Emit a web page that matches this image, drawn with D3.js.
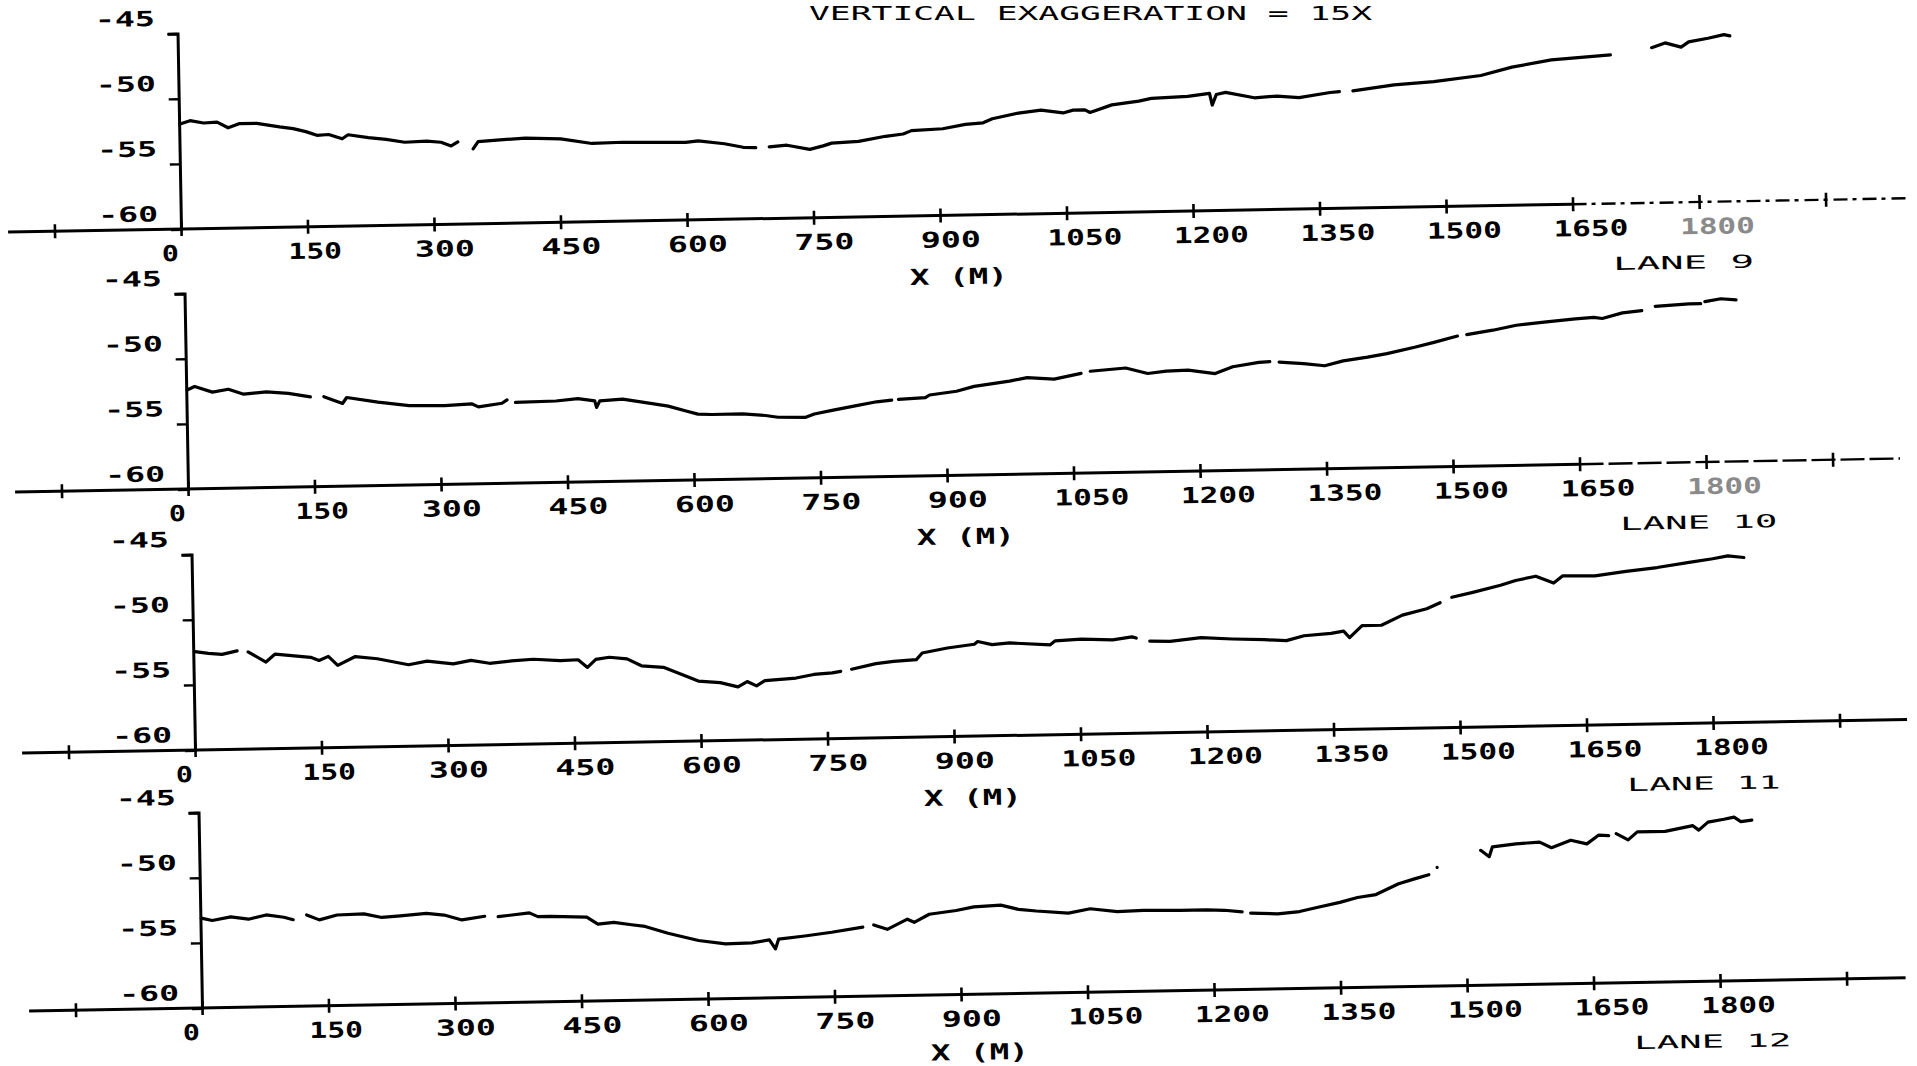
<!DOCTYPE html>
<html>
<head>
<meta charset="utf-8">
<script src="https://cdn.jsdelivr.net/npm/d3@7"></script>
<style>
  html, body { margin: 0; padding: 0; background: #fff; overflow: hidden; }
  svg { display: block; }
</style>
</head>
<body>
<svg id="chart" width="1917" height="1066"></svg>
<script>
// ---------------- DATA ----------------
const titleText = "VERTICAL EXAGGERATION = 15X";
const xAxisTitle = "X (M)";
const laneNames = ["LANE  9", "LANE  10", "LANE  11", "LANE  12"];

const xTickValues = [-150, 0, 150, 300, 450, 600, 750, 900, 1050, 1200, 1350, 1500, 1650, 1800, 1950];
const xLabelValues = [0, 150, 300, 450, 600, 750, 900, 1050, 1200, 1350, 1500, 1650, 1800];
const xTickLabels = ["0", "150", "300", "450", "600", "750", "900", "1050", "1200", "1350", "1500", "1650", "1800"];
const yTickValues = [-60, -55, -50, -45];
const yTickLabels = ["-60", "-55", "-50", "-45"];

// Lane 9 (null = pen lift / gap in the record)
const lane9Dist = [1, 13, 29, 45, 58, 71, 92, 119, 135, 150, 163, 177, 193, 200, 224, 245, 267, 293, 310, 322, 330, 336,
  348, 354, 380, 410, 452, 489, 526, 558, 600, 615, 646, 668, 683, 690,
  699, 720, 747, 763, 773, 805, 837, 858, 868, 905, 932, 953, 964, 995, 1022, 1048, 1060, 1074, 1080, 1106, 1138, 1153,
  1196, 1222, 1225, 1230, 1241, 1275, 1302, 1328, 1365, 1376, 1384,
  1392, 1441, 1488, 1544, 1581, 1628, 1698, 1720,
  1747, 1763, 1782, 1791, 1814, 1833, 1840];
const lane9Depth = [-51.95, -51.7, -51.9, -51.85, -52.3, -52.0, -52.0, -52.3, -52.45, -52.7, -53.0, -52.95, -53.3, -53.0, -53.25, -53.4, -53.65, -53.6, -53.7, -54.0, -53.7, null,
  -54.25, -53.7, -53.6, -53.5, -53.6, -54.0, -53.95, -54.0, -54.05, -53.95, -54.2, -54.5, -54.55, null,
  -54.5, -54.4, -54.75, -54.5, -54.3, -54.2, -53.85, -53.7, -53.45, -53.35, -53.05, -52.95, -52.65, -52.25, -52.05, -52.3, -52.1, -52.1, -52.3, -51.75, -51.5, -51.3,
  -51.2, -51.0, -51.9, -51.1, -50.95, -51.4, -51.3, -51.45, -51.1, -51.05, null,
  -51.0, -50.6, -50.4, -50.0, -49.4, -48.9, -48.6, null,
  -48.1, -47.75, -48.1, -47.7, -47.45, -47.2, -47.3];

// Lane 10
const lane10Dist = [1, 10, 31, 50, 68, 95, 121, 147, 155,
  163, 185, 190, 227, 264, 306, 338, 346, 374, 380, 385,
  390, 438, 464, 484, 486, 490, 517, 554, 571, 592, 606, 622, 659, 686, 701, 733, 744, 765, 791, 818, 836, 840,
  844, 876, 881, 913, 934, 976, 997, 1029, 1061, 1066,
  1072, 1114, 1140, 1162, 1188, 1220, 1241, 1272, 1285, 1291,
  1296, 1325, 1350, 1372, 1401, 1424, 1457, 1480, 1508, 1514,
  1519, 1550, 1578, 1611, 1648, 1670, 1680, 1704, 1727, 1735,
  1743, 1783, 1797, 1800,
  1802, 1821, 1839];
const lane10Depth = [-52.4, -52.15, -52.6, -52.4, -52.8, -52.65, -52.8, -53.1, null,
  -53.1, -53.65, -53.2, -53.6, -53.9, -53.95, -53.85, -54.1, -53.85, -53.6, null,
  -53.8, -53.75, -53.6, -53.8, -54.3, -53.8, -53.7, -54.1, -54.3, -54.7, -54.95, -55.0, -55.0, -55.15, -55.3, -55.35, -55.1, -54.85, -54.55, -54.25, -54.15, null,
  -54.1, -54.0, -53.8, -53.55, -53.2, -52.85, -52.6, -52.75, -52.35, null,
  -52.2, -52.0, -52.45, -52.3, -52.25, -52.55, -52.05, -51.75, -51.7, null,
  -51.75, -51.9, -52.1, -51.75, -51.5, -51.25, -50.8, -50.45, -50.0, null,
  -49.9, -49.6, -49.25, -49.05, -48.85, -48.75, -48.85, -48.45, -48.3, null,
  -48.0, -47.85, -47.85, null,
  -47.7, -47.5, -47.6];

// Lane 11
const lane11Dist = [2, 18, 34, 52, 58,
  65, 86, 97, 139, 149, 160, 171, 192, 218, 255, 277, 308, 329, 351, 377, 403, 435, 456, 467, 477, 493, 514, 531, 557, 578, 598,
  624, 645, 656, 667, 677, 714, 735, 757, 767, 774,
  780, 809, 830, 857, 864, 894, 926, 930, 947, 968, 1016, 1022, 1053, 1090, 1113, 1118, 1126,
  1134, 1158, 1195, 1232, 1270, 1296, 1317, 1349, 1364, 1371, 1386, 1409, 1434, 1463, 1479, 1486,
  1493, 1518, 1551, 1569, 1593, 1614, 1625, 1663, 1700, 1737, 1775, 1803, 1821, 1840];
const lane11Depth = [-52.45, -52.6, -52.7, -52.45, null,
  -52.55, -53.35, -52.75, -53.05, -53.3, -53.0, -53.7, -53.05, -53.25, -53.75, -53.5, -53.75, -53.5, -53.75, -53.6, -53.5, -53.65, -53.6, -54.2, -53.6, -53.45, -53.6, -54.15, -54.3, -54.85, -55.4,
  -55.55, -55.9, -55.5, -55.85, -55.45, -55.3, -55.05, -54.95, -54.85, null,
  -54.7, -54.3, -54.15, -54.05, -53.55, -53.2, -52.95, -52.75, -53.0, -52.9, -53.1, -52.8, -52.7, -52.8, -52.6, -52.7, null,
  -52.95, -53.0, -52.75, -52.9, -53.0, -53.1, -52.75, -52.6, -52.45, -52.95, -52.05, -52.05, -51.3, -50.85, -50.4, null,
  -50.0, -49.65, -49.15, -48.8, -48.5, -49.05, -48.5, -48.55, -48.25, -48.0, -47.65, -47.4, -47.2, -47.35];

// Lane 12
const lane12Dist = [1, 14, 36, 57, 78, 99, 110, 117,
  126, 141, 162, 194, 215, 237, 268, 289, 310, 337, 346,
  353, 390, 400, 416, 458, 471, 490, 511, 527, 554, 575, 590, 622, 653, 674, 681, 685, 716, 748, 785, 792,
  798, 814, 838, 846, 864, 896, 917, 949, 970, 991, 1029, 1055, 1087, 1118, 1161, 1193, 1214, 1235, 1240,
  1245, 1277, 1303, 1325, 1351, 1372, 1394, 1421, 1440, 1457, 1462,
  1467, 1490,
  1519, 1529, 1533, 1561, 1589, 1603, 1626, 1645, 1659, 1671, 1675,
  1680, 1694, 1705, 1738, 1771, 1778, 1789, 1808, 1820, 1828, 1841];
const lane12Depth = [-53.1, -53.3, -53.05, -53.25, -52.95, -53.15, -53.35, null,
  -53.0, -53.4, -53.05, -53.0, -53.3, -53.2, -53.05, -53.2, -53.6, -53.35, null,
  -53.4, -53.15, -53.45, -53.45, -53.55, -54.1, -54.0, -54.2, -54.35, -54.9, -55.25, -55.5, -55.8, -55.75, -55.55, -56.25, -55.5, -55.3, -55.05, -54.7, null,
  -54.55, -54.9, -54.15, -54.4, -53.8, -53.55, -53.3, -53.2, -53.55, -53.7, -53.9, -53.6, -53.85, -53.8, -53.85, -53.85, -53.9, -54.05, null,
  -54.15, -54.25, -54.1, -53.8, -53.45, -53.1, -52.9, -52.1, -51.75, -51.45, null,
  -50.9, null,
  -49.65, -50.15, -49.4, -49.2, -49.1, -49.55, -49.0, -49.3, -48.65, -48.7, null,
  -48.55, -49.05, -48.45, -48.45, -48.05, -48.4, -47.8, -47.6, -47.45, -47.8, -47.7];

const laneDists = [lane9Dist, lane10Dist, lane11Dist, lane12Dist];
const laneDepths = [lane9Depth, lane10Depth, lane11Depth, lane12Depth];

// ---------------- LAYOUT ----------------
const panelLeft = [181, 188, 195, 202];
const panelBase = [229, 489, 750, 1008];
const titleOffset = [69, 69, 69, 65.5];
const tilt = -1.02;
const axisStart = -205;
const axisEnd = [2045, 2030, 2030, 2020];
const dashedFrom = [1650, 1650, null, null];
const dashPattern = ["14,5,4,6", "24,5"];
const fadedLabel = [["1800"], ["1800"], [], []];
const mono = "'DejaVu Sans Mono', 'Liberation Mono', monospace";

const svg = d3.select("#chart");

const x = d3.scaleLinear().domain([0, 1950]).range([0, 1950 * 0.8435]);
const y = d3.scaleLinear().domain([-60, -45]).range([0, -195.5]);

function labelWidth(s) {
  const ones = (s.match(/1/g) || []).length;
  return 21.5 * s.length - 4.5 - 6.5 * ones;
}

// title (kept fully inside the page)
svg.append("text")
  .attr("x", 809).attr("y", 20)
  .attr("font-family", mono).attr("font-size", 20).attr("font-weight", "normal")
  .attr("textLength", 563).attr("lengthAdjust", "spacingAndGlyphs")
  .attr("fill", "#000")
  .text(titleText);

const line = d3.line()
  .defined(d => d[1] !== null)
  .x(d => x(d[0]))
  .y(d => y(d[1]));

for (let i = 0; i < 4; i++) {
  const g = svg.append("g")
    .attr("transform", `translate(${panelLeft[i]},${panelBase[i]}) rotate(${tilt})`);

  // x axis baseline (solid, then dashed part where present)
  const solidEnd = dashedFrom[i] === null ? axisEnd[i] : dashedFrom[i];
  g.append("line")
    .attr("x1", x(axisStart)).attr("x2", x(solidEnd))
    .attr("y1", 0).attr("y2", 0)
    .attr("stroke", "#000").attr("stroke-width", 3);
  if (dashedFrom[i] !== null) {
    g.append("line")
      .attr("x1", x(dashedFrom[i])).attr("x2", x(axisEnd[i]))
      .attr("y1", 0).attr("y2", 0)
      .attr("stroke", "#000").attr("stroke-width", 2.4)
      .attr("stroke-dasharray", dashPattern[i]);
  }

  // x axis ticks + labels through d3.axisBottom
  const xAxis = d3.axisBottom(x)
    .tickValues(xTickValues)
    .tickSizeOuter(0)
    .tickFormat(d => {
      const k = xLabelValues.indexOf(d);
      return k >= 0 ? xTickLabels[k] : "";
    });
  const gx = g.append("g").call(xAxis);
  gx.select(".domain").remove();
  gx.selectAll(".tick line")
    .attr("y1", -7).attr("y2", 7)
    .attr("stroke", "#000").attr("stroke-width", 2.6);
  gx.selectAll(".tick text")
    .attr("font-family", mono).attr("font-size", 22).attr("font-weight", "bold")
    .attr("text-anchor", "start")
    .attr("x", -20).attr("y", 32).attr("dy", null)
    .attr("fill", function () {
      const t = d3.select(this).text();
      return fadedLabel[i].includes(t) ? "#8a8a8a" : "#000";
    })
    .each(function () {
      const t = d3.select(this).text();
      if (t.length) {
        d3.select(this).attr("textLength", labelWidth(t)).attr("lengthAdjust", "spacingAndGlyphs");
      }
    });

  // y axis through d3.axisLeft
  const yAxis = d3.axisLeft(y)
    .tickValues(yTickValues)
    .tickSizeInner(10)
    .tickSizeOuter(10)
    .tickFormat(d => yTickLabels[yTickValues.indexOf(d)]);
  const gy = g.append("g").call(yAxis);
  gy.select(".domain")
    .attr("stroke", "#000").attr("stroke-width", 3).attr("fill", "none");
  gy.selectAll(".tick line")
    .attr("stroke", "#000").attr("stroke-width", 2.4);
  gy.selectAll(".tick text")
    .attr("font-family", mono).attr("font-size", 21).attr("font-weight", "bold")
    .attr("text-anchor", "end")
    .attr("x", -22.5).attr("y", -8.5).attr("dy", null)
    .attr("fill", "#000")
    .attr("textLength", 60).attr("lengthAdjust", "spacingAndGlyphs");

  // axis title
  g.append("text")
    .attr("x", x(921)).attr("y", titleOffset[i])
    .attr("text-anchor", "middle")
    .attr("font-family", mono).attr("font-size", 22).attr("font-weight", "bold")
    .attr("textLength", 98).attr("lengthAdjust", "spacingAndGlyphs")
    .attr("fill", "#000")
    .text(xAxisTitle);

  // lane label
  const ln = laneNames[i];
  const ones = (ln.match(/1/g) || []).length;
  g.append("text")
    .attr("x", x(1697)).attr("y", 66.5)
    .attr("text-anchor", "start")
    .attr("font-family", mono).attr("font-size", 18).attr("font-weight", "normal")
    .attr("textLength", 20.4 * ln.length - 2 - 4 * ones).attr("lengthAdjust", "spacingAndGlyphs")
    .attr("fill", "#000")
    .text(ln);

  // profile
  const pts = laneDists[i].map((d, k) => [d, laneDepths[i][k]]);
  g.append("path")
    .datum(pts)
    .attr("d", line)
    .attr("fill", "none")
    .attr("stroke", "#000")
    .attr("stroke-width", 3.2)
    .attr("stroke-linejoin", "round")
    .attr("stroke-linecap", "round");
}
</script>
</body>
</html>
